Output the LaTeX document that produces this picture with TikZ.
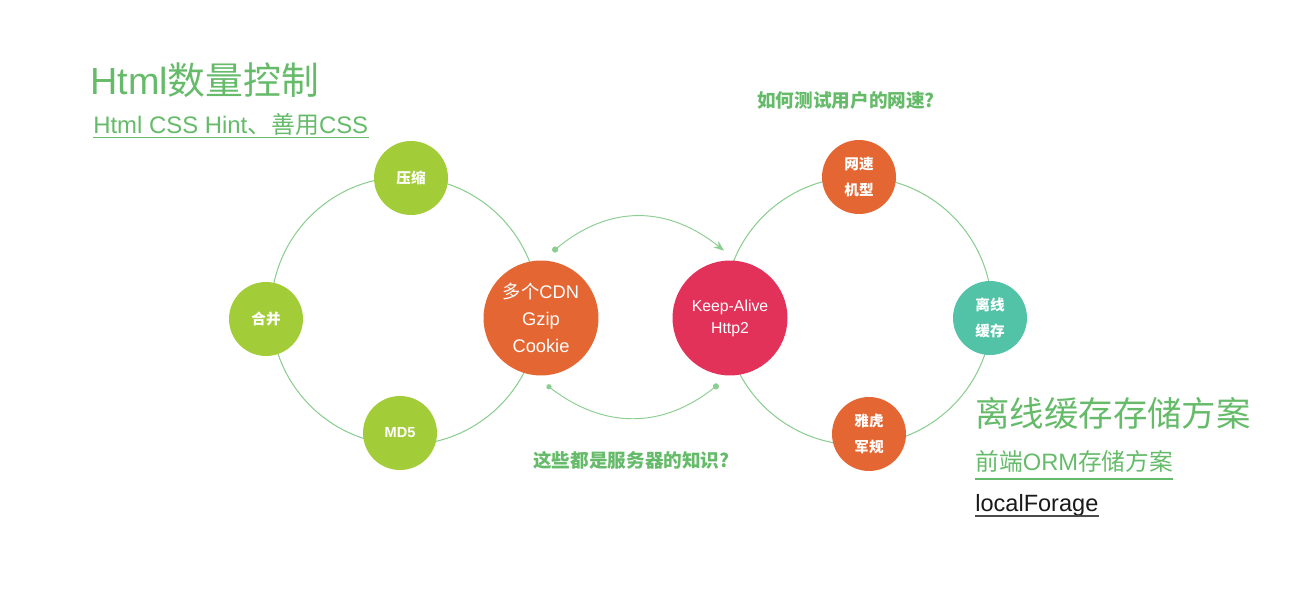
\documentclass[tikz,border=0pt]{standalone}
\usepackage{fontspec}
\setmainfont{Liberation Sans}
\newfontfamily\cjk{Noto Sans CJK SC}
\usepackage{xcolor}
\usepackage{tikz}
\usetikzlibrary{positioning,calc,arrows.meta}
\definecolor{TipGreen}{RGB}{102,187,106}
\definecolor{RingGreen}{RGB}{140,205,145}
\definecolor{LimeBall}{RGB}{163,204,57}
\definecolor{OrangeBall}{RGB}{228,103,51}
\definecolor{RoseBall}{RGB}{227,50,90}
\definecolor{TealBall}{RGB}{82,195,166}
\newcommand{\zh}[1]{{\cjk #1}}
\tikzset{
    smallball/.style={circle, minimum size=1.48cm, inner sep=0pt, text=white, align=center, font=\bfseries\fontsize{8.3}{14.8}\selectfont},
    bigball/.style={circle, minimum size=2.3cm, inner sep=0pt, outer sep=0.2cm, text=white, align=center},
    ringline/.style={draw=RingGreen, line width=0.6pt}
}

\begin{document}
\begin{tikzpicture}[
        x=0.02cm, y=-0.02cm,
        % --- STYLE ---
        % Chu thich lon mau xanh
        bigtitle/.style={text=TipGreen, inner sep=0pt, anchor=base west, font=\fontsize{21.5}{24}\selectfont},
        % Chu thich nho (gach duoi)
        subtitle/.style={text=TipGreen, inner sep=0pt, anchor=base west, font=\fontsize{13.6}{16}\selectfont},
        % Cau hoi
        question/.style={text=TipGreen, inner sep=0pt, anchor=base west, font=\bfseries\fontsize{10.6}{12}\selectfont},
        % Duong cong giua hai vong
        bridge/.style={draw=RingGreen, line width=0.55pt},
        underline/.style={draw=TipGreen, line width=0.9pt}
    ]
        \useasboundingbox (0,0) rectangle (1304,591);

        % --- HAI VONG TRON ---
        \draw[ringline] (405,311) circle [radius=2.68cm];
        \draw[ringline] (858,311) circle [radius=2.68cm];

        % --- CAC NUT (vong trai) ---
        \node[smallball, fill=LimeBall] (yasuo) at (411,178) {\zh{压缩}};
        \node[smallball, fill=LimeBall] (hebing) at (266,319) {\zh{合并}};
        \node[smallball, fill=LimeBall] (md5) at (400,433) {MD5};
        \node[bigball, fill=OrangeBall, font=\fontsize{10.4}{15.2}\selectfont] (cdn) at (541,318)
            {\zh{多个}CDN\\Gzip\\Cookie};

        % --- CAC NUT (vong phai) ---
        \node[bigball, fill=RoseBall, font=\fontsize{9}{12.6}\selectfont] (alive) at (730,318)
            {Keep-Alive\\Http2};
        \node[smallball, fill=OrangeBall] (wangsu) at (859,177) {\zh{网速}\\\zh{机型}};
        \node[smallball, fill=TealBall] (lixian) at (990,318) {\zh{离线}\\\zh{缓存}};
        \node[smallball, fill=OrangeBall] (yahoo) at (869,434) {\zh{雅虎}\\\zh{军规}};

        % --- DUONG CONG NOI ---
        \draw[bridge, {Circle[length=3.5pt]}-{Stealth[length=6pt,width=4.5pt]}]
            (cdn.80) .. controls (609,205) and (667,205) .. (alive.95);
        \draw[bridge, {Circle[length=3pt]}-{Circle[length=3.5pt]}]
            (cdn.-85) .. controls (604,429) and (662,429) .. (alive.-100);

        % --- CHU THICH ---
        \node[bigtitle] (htmltitle) at (90,95) {Html\zh{数量控制}};
        \node[subtitle] (htmlhint) at (93,134) {Html CSS Hint\zh{、善用}CSS};
        \draw[underline] ([yshift=-2pt]htmlhint.base west) -- ([yshift=-2pt]htmlhint.base east);

        \node[question] (speedq) at (757,108) {\zh{如何测试用户的网速?}};
        \node[question] (serverq) at (533,467) {\zh{这些都是服务器的知识?}};

        \node[bigtitle, font=\fontsize{19.6}{22}\selectfont] (offtitle) at (975,426) {\zh{离线缓存存储方案}};
        \node[subtitle, font=\fontsize{13.5}{16}\selectfont] (ormhint) at (975,470) {\zh{前端}ORM\zh{存储方案}};
        \draw[underline, line width=1.2pt] ([yshift=-5pt]ormhint.base west) -- ([yshift=-5pt]ormhint.base east);
        \node[subtitle, text=black!90, font=\fontsize{13.4}{16}\selectfont] (forage) at (975,511) {localForage};
        \draw[draw=black!70, line width=0.9pt] ([yshift=-2.8pt]forage.base west) -- ([yshift=-2.8pt]forage.base east);

    \end{tikzpicture}
\end{document}
